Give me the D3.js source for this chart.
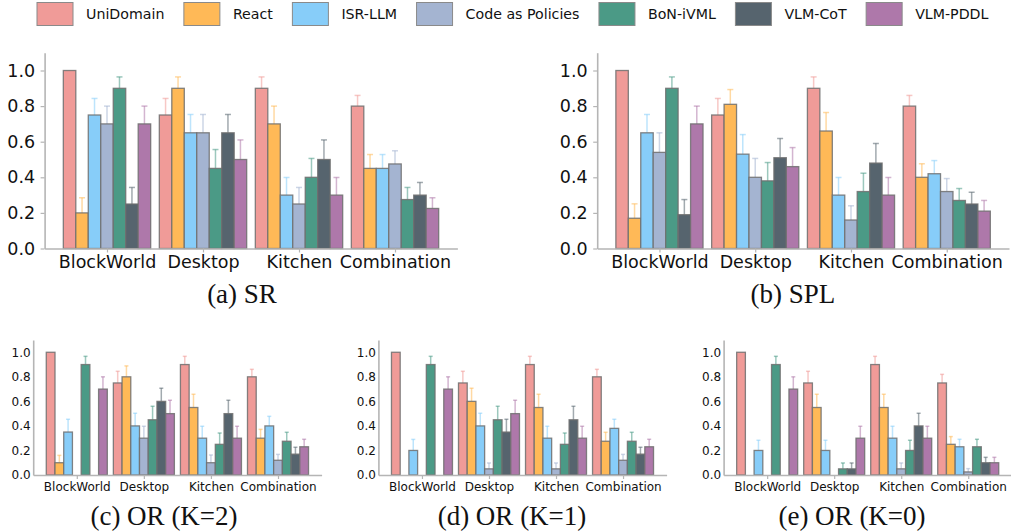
<!DOCTYPE html>
<html>
<head>
<meta charset="utf-8">
<script src="https://cdn.jsdelivr.net/npm/d3@7"></script>
<style>
  html, body { margin: 0; padding: 0; background: #fff; }
  svg { display: block; }
</style>
</head>
<body>
<svg id="chart" width="1011" height="531"></svg>
<script>
// ---------------- DATA ----------------
const categories = ["BlockWorld", "Desktop", "Kitchen", "Combination"];
const methods = ["UniDomain", "React", "ISR-LLM", "Code as Policies", "BoN-iVML", "VLM-CoT", "VLM-PDDL"];
const methodColors = ["#f09b98", "#ffb957", "#87cdf9", "#a4b4d1", "#4b9a86", "#56646e", "#ae78aa"];
const yTickValues = [0, 0.2, 0.4, 0.6, 0.8, 1.0];

// rows = methods, columns = categories
const srValues = [
  [1.0, 0.75, 0.9, 0.8],
  [0.2, 0.9, 0.7, 0.45],
  [0.75, 0.65, 0.3, 0.45],
  [0.7, 0.65, 0.25, 0.475],
  [0.9, 0.45, 0.4, 0.275],
  [0.25, 0.65, 0.5, 0.3],
  [0.7, 0.5, 0.3, 0.225]
];
const srErrors = [
  [0, 0.093, 0.064, 0.06],
  [0.085, 0.064, 0.1, 0.078],
  [0.093, 0.103, 0.099, 0.078],
  [0.1, 0.103, 0.093, 0.074],
  [0.064, 0.106, 0.106, 0.068],
  [0.093, 0.103, 0.11, 0.071],
  [0.1, 0.11, 0.099, 0.06]
];

const splValues = [
  [1.0, 0.75, 0.9, 0.8],
  [0.17, 0.81, 0.66, 0.40],
  [0.65, 0.53, 0.30, 0.42],
  [0.54, 0.40, 0.16, 0.32],
  [0.90, 0.38, 0.32, 0.27],
  [0.19, 0.51, 0.48, 0.25],
  [0.70, 0.46, 0.30, 0.21]
];
const splErrors = [
  [0, 0.093, 0.064, 0.06],
  [0.081, 0.083, 0.104, 0.076],
  [0.103, 0.11, 0.099, 0.074],
  [0.11, 0.106, 0.08, 0.073],
  [0.064, 0.103, 0.103, 0.067],
  [0.085, 0.108, 0.11, 0.066],
  [0.10, 0.107, 0.099, 0.06]
];

const orK2Values = [
  [1.0, 0.75, 0.9, 0.8],
  [0.1, 0.8, 0.55, 0.3],
  [0.35, 0.4, 0.3, 0.4],
  [0, 0.3, 0.1, 0.12],
  [0.9, 0.45, 0.25, 0.275],
  [0, 0.6, 0.5, 0.17],
  [0.7, 0.5, 0.3, 0.23]
];
const orK2Errors = [
  [0, 0.095, 0.067, 0.061],
  [0.06, 0.089, 0.108, 0.072],
  [0.104, 0.103, 0.097, 0.078],
  [0, 0.097, 0.063, 0.048],
  [0.067, 0.11, 0.092, 0.073],
  [0, 0.107, 0.109, 0.056],
  [0.1, 0.109, 0.097, 0.061]
];

const orK1Values = [
  [1.0, 0.75, 0.9, 0.8],
  [0, 0.6, 0.55, 0.275],
  [0.2, 0.4, 0.3, 0.38],
  [0, 0.05, 0.05, 0.12],
  [0.9, 0.45, 0.25, 0.275],
  [0, 0.35, 0.45, 0.17],
  [0.7, 0.5, 0.3, 0.23]
];
const orK1Errors = [
  [0, 0.095, 0.067, 0.061],
  [0, 0.107, 0.108, 0.073],
  [0.09, 0.103, 0.097, 0.074],
  [0, 0.048, 0.048, 0.048],
  [0.067, 0.11, 0.092, 0.073],
  [0, 0.104, 0.11, 0.056],
  [0.1, 0.109, 0.097, 0.061]
];

const orK0Values = [
  [1.0, 0.75, 0.9, 0.75],
  [0, 0.55, 0.55, 0.25],
  [0.2, 0.2, 0.3, 0.23],
  [0, 0, 0.05, 0.025],
  [0.9, 0.05, 0.2, 0.23],
  [0, 0.05, 0.4, 0.1],
  [0.7, 0.3, 0.3, 0.1]
];
const orK0Errors = [
  [0, 0.095, 0.067, 0.07],
  [0, 0.108, 0.108, 0.063],
  [0.083, 0.083, 0.097, 0.061],
  [0, 0, 0.048, 0.027],
  [0.067, 0.048, 0.083, 0.061],
  [0, 0.048, 0.103, 0.044],
  [0.1, 0.097, 0.097, 0.044]
];

const captions = ["(a) SR", "(b) SPL", "(c) OR (K=2)", "(d) OR (K=1)", "(e) OR (K=0)"];

// ---------------- LAYOUT ----------------
const svg = d3.select("#chart");
const barWidth = 0.13;

const panels = [
  { values: srValues,   errors: srErrors,   caption: captions[0], x0: 44.6,  x1: 457.4,  yTop: 52.7, yBase: 248.5, font: 17.5, tickLen: 4, yPad: 5.5, xPad: 3, cap: 3, capX: 242, capY: 303, capFont: 27 },
  { values: splValues,  errors: splErrors,  caption: captions[1], x0: 597.2, x1: 1009,   yTop: 52.7, yBase: 248.5, font: 17.5, tickLen: 4, yPad: 5.5, xPad: 3, cap: 3, capX: 793, capY: 303, capFont: 27 },
  { values: orK2Values, errors: orK2Errors, caption: captions[2], x0: 33.2,  x1: 321.6,  yTop: 340,  yBase: 475,   font: 12,   tickLen: 0, yPad: 2.5, xPad: 3.5, cap: 2, capX: 164, capY: 525, capFont: 27 },
  { values: orK1Values, errors: orK1Errors, caption: captions[3], x0: 378.4, x1: 666.6,  yTop: 340,  yBase: 475,   font: 12,   tickLen: 0, yPad: 2.5, xPad: 3.5, cap: 2, capX: 512, capY: 525, capFont: 27 },
  { values: orK0Values, errors: orK0Errors, caption: captions[4], x0: 723.6, x1: 1011.8, yTop: 340,  yBase: 475,   font: 12,   tickLen: 0, yPad: 2.5, xPad: 3.5, cap: 2, capX: 852, capY: 525, capFont: 27 }
];

const fontFamily = "'DejaVu Sans', sans-serif";

panels.forEach(p => {
  const g = svg.append("g");
  const x = d3.scaleLinear().domain([-0.65, 3.65]).range([p.x0, p.x1]);
  const y = d3.scaleLinear().domain([0, 1.1]).range([p.yBase, p.yTop]);

  const flat = [];
  p.values.forEach((row, m) => row.forEach((v, c) => {
    flat.push({ m, c, v, e: p.errors[m][c] });
  }));

  // error bars (upper part visible)
  const eg = g.append("g");
  flat.filter(d => d.e > 0).forEach(d => {
    const cx = x(d.c + (d.m - 3) * barWidth);
    const col = methodColors[d.m];
    eg.append("line")
      .attr("x1", cx).attr("x2", cx)
      .attr("y1", y(d.v)).attr("y2", y(d.v + d.e))
      .attr("stroke", col).attr("stroke-opacity", 0.55).attr("stroke-width", 1.5);
    eg.append("line")
      .attr("x1", cx - p.cap).attr("x2", cx + p.cap)
      .attr("y1", y(d.v + d.e)).attr("y2", y(d.v + d.e))
      .attr("stroke", col).attr("stroke-opacity", 0.55).attr("stroke-width", 1.5);
  });

  // bars
  g.append("g").selectAll("rect")
    .data(flat.filter(d => d.v > 0))
    .join("rect")
    .attr("x", d => x(d.c + (d.m - 3.5) * barWidth))
    .attr("width", d => x(barWidth) - x(0))
    .attr("y", d => y(d.v))
    .attr("height", d => y(0) - y(d.v))
    .attr("fill", d => methodColors[d.m])
    .attr("stroke", "#6e6e6e")
    .attr("stroke-opacity", 0.85)
    .attr("stroke-width", 1.3);

  // y axis
  const ya = g.append("g")
    .attr("transform", `translate(${p.x0},0)`)
    .call(d3.axisLeft(y).tickValues(yTickValues).tickFormat(d3.format(".1f"))
      .tickSize(p.tickLen).tickSizeOuter(0).tickPadding(p.yPad));
  ya.select(".domain").attr("stroke", "#b5b5b5").attr("stroke-width", 1.6);
  ya.selectAll(".tick line").attr("stroke", "#b5b5b5").attr("stroke-width", 1.2);
  ya.selectAll(".tick text").attr("font-family", fontFamily).attr("font-size", p.font).attr("fill", "#111");

  // x axis
  const xa = g.append("g")
    .attr("transform", `translate(0,${p.yBase})`)
    .call(d3.axisBottom(x).tickValues([0, 1, 2, 3]).tickFormat(i => categories[i])
      .tickSize(4).tickSizeOuter(0).tickPadding(p.xPad));
  xa.select(".domain").attr("stroke", "#b5b5b5").attr("stroke-width", 1.6);
  xa.selectAll(".tick line").attr("stroke", "#b5b5b5").attr("stroke-width", 1.2);
  xa.selectAll(".tick text").attr("font-family", fontFamily).attr("font-size", p.font).attr("fill", "#111");

  // caption
  svg.append("text")
    .attr("x", p.capX).attr("y", p.capY)
    .attr("text-anchor", "middle")
    .attr("font-family", "'Liberation Serif', 'Times New Roman', serif")
    .attr("font-size", p.capFont)
    .attr("fill", "#111")
    .text(p.caption);
});

// ---------------- LEGEND ----------------
const legend = svg.append("g");
let lx = 37;
methods.forEach((name, i) => {
  legend.append("rect")
    .attr("x", lx).attr("y", 2.5)
    .attr("width", 36).attr("height", 23)
    .attr("fill", methodColors[i])
    .attr("stroke", "#8a8a8a").attr("stroke-width", 1);
  const t = legend.append("text")
    .attr("x", lx + 49).attr("y", 19)
    .attr("font-family", fontFamily)
    .attr("font-size", 14.2)
    .attr("fill", "#111")
    .text(name);
  lx = lx + 49 + t.node().getComputedTextLength() + 19.5;
});
</script>
</body>
</html>
